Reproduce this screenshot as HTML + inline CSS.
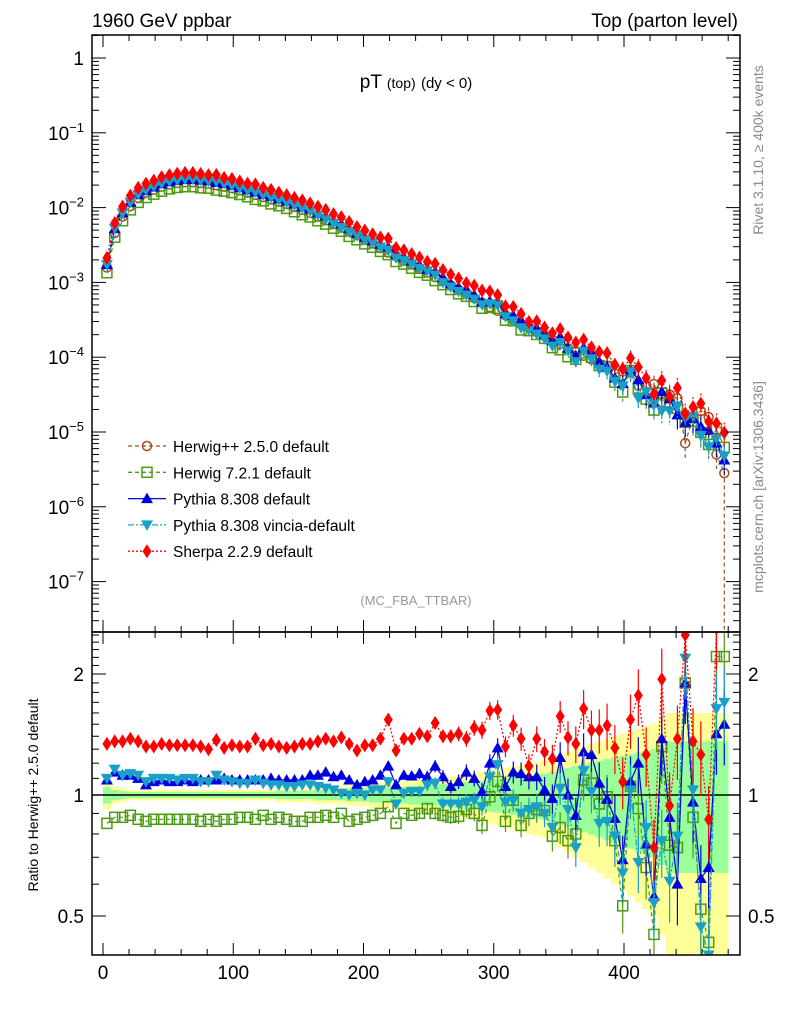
<!DOCTYPE html>
<html><head><meta charset="utf-8"><style>
html,body{margin:0;padding:0;background:#fff;}
svg{display:block;font-family:"Liberation Sans",sans-serif;}
</style></head><body>
<svg id="c" width="786" height="1024" viewBox="0 0 786 1024" xmlns="http://www.w3.org/2000/svg">
<defs>
<clipPath id="clipMain"><rect x="92" y="35" width="648" height="597"/></clipPath>
<clipPath id="clipRatio"><rect x="92" y="632" width="648" height="323"/></clipPath>
</defs>
<rect x="0" y="0" width="786" height="1024" fill="#fff"/>
<g id="bands" clip-path="url(#clipRatio)"></g>
<g id="mainSeries" clip-path="url(#clipMain)"></g>
<g id="ratioSeries" clip-path="url(#clipRatio)"></g>
<g id="axes"></g>
<text x="92" y="27" font-size="19">1960 GeV ppbar</text>
<text x="738" y="27" font-size="19" text-anchor="end">Top (parton level)</text>
<text x="416" y="88" font-size="19" text-anchor="middle">pT <tspan font-size="14">(top)</tspan> <tspan font-size="15">(dy &lt; 0)</tspan></text>
<text x="416" y="605" font-size="13" fill="#999" text-anchor="middle">(MC_FBA_TTBAR)</text>
<text transform="translate(763,150) rotate(-90)" font-size="14" fill="#888" text-anchor="middle">Rivet 3.1.10, ≥ 400k events</text>
<text transform="translate(763,487) rotate(-90)" font-size="14" fill="#888" text-anchor="middle">mcplots.cern.ch [arXiv:1306.3436]</text>
<text transform="translate(38,795) rotate(-90)" font-size="14" text-anchor="middle">Ratio to Herwig++ 2.5.0 default</text>
<g id="legend"></g>
</svg>
<script>
// ---- data ----
const binCenters = [3,9,15,21,27,33,39,45,51,57,63,69,75,81,87,93,99,105,111,117,123,129,135,141,147,153,159,165,171,177,183,189,195,201,207,213,219,225,231,237,243,249,255,261,267,273,279,285,291,297,303,309,315,321,327,333,339,345,351,357,363,369,375,381,387,393,399,405,411,417,423,429,435,441,447,453,459,465,471,477];
// log10 of Herwig++ 2.5.0 reference dsigma/dpT
const refLog10 = [-2.80,-2.34,-2.12,-1.98,-1.87,-1.80,-1.76,-1.72,-1.69,-1.67,-1.66,-1.66,-1.67,-1.68,-1.70,-1.72,-1.74,-1.77,-1.80,-1.83,-1.86,-1.89,-1.92,-1.95,-1.99,-2.03,-2.07,-2.12,-2.17,-2.22,-2.27,-2.32,-2.37,-2.43,-2.48,-2.54,-2.60,-2.65,-2.71,-2.76,-2.82,-2.87,-2.93,-2.98,-3.04,-3.10,-3.15,-3.21,-3.27,-3.33,-3.38,-3.44,-3.50,-3.56,-3.60,-3.66,-3.71,-3.77,-3.82,-3.88,-3.93,-3.98,-4.03,-4.09,-4.12,-4.22,-4.19,-4.20,-4.38,-4.38,-4.36,-4.60,-4.50,-4.55,-5.15,-4.80,-4.72,-4.80,-5.30,-5.55];
const ratioHerwig7 = [0.85,0.88,0.88,0.89,0.87,0.86,0.87,0.87,0.87,0.87,0.87,0.87,0.86,0.87,0.86,0.87,0.87,0.88,0.88,0.87,0.89,0.87,0.88,0.87,0.86,0.86,0.88,0.88,0.89,0.88,0.90,0.86,0.87,0.88,0.89,
0.90,0.935,0.85,0.90,0.89,0.90,0.925,0.90,0.89,0.88,0.885,0.92,0.90,0.84,0.99,1.08,0.86,0.97,0.84,0.90,0.92,0.915,0.79,0.83,0.77,0.80,1.09,1.07,0.95,0.99,0.77,0.53,1.05,0.925,0.66,0.45,1.32,0.75,0.74,1.90,0.88,0.52,0.43,2.21,2.21];
const ratioPythia = [1.09,1.14,1.12,1.12,1.10,1.06,1.08,1.09,1.08,1.08,1.09,1.08,1.09,1.09,1.09,1.10,1.09,1.09,1.09,1.09,1.09,1.10,1.09,1.09,1.09,1.09,1.12,1.12,1.14,1.11,1.12,1.09,1.06,1.08,1.09,
1.12,1.18,1.06,1.12,1.115,1.13,1.11,1.18,1.11,1.05,1.08,1.14,1.10,1.02,1.20,1.31,1.05,1.14,1.13,1.11,1.11,1.03,0.98,1.24,1.0,0.89,1.28,1.26,1.07,0.975,0.875,0.69,1.08,1.20,0.755,0.56,1.38,0.88,0.60,1.90,0.96,0.62,0.66,1.42,1.50];
const ratioVincia = [1.10,1.16,1.12,1.13,1.12,1.08,1.10,1.10,1.10,1.09,1.10,1.10,1.08,1.08,1.12,1.09,1.08,1.07,1.07,1.09,1.07,1.06,1.06,1.05,1.05,1.06,1.06,1.05,1.04,1.03,1.01,1.00,1.01,1.00,1.03,
1.03,1.08,0.95,1.01,1.02,1.02,1.06,1.07,0.95,0.95,0.95,0.96,0.97,0.935,1.11,1.19,0.96,0.97,0.90,0.92,0.935,0.90,0.83,1.04,0.92,0.74,1.15,1.02,0.85,0.86,0.79,0.64,1.03,0.68,0.83,0.54,0.77,0.61,0.79,2.19,1.03,0.47,0.40,1.64,1.70];
const ratioSherpa = [1.34,1.36,1.36,1.38,1.36,1.32,1.32,1.34,1.33,1.33,1.33,1.33,1.32,1.30,1.37,1.31,1.33,1.32,1.32,1.38,1.33,1.34,1.32,1.31,1.32,1.34,1.34,1.36,1.38,1.36,1.39,1.34,1.29,1.33,1.33,
1.38,1.54,1.29,1.38,1.38,1.42,1.40,1.51,1.40,1.40,1.42,1.38,1.47,1.45,1.62,1.63,1.32,1.49,1.38,1.18,1.38,1.28,1.23,1.57,1.39,1.34,1.64,1.45,1.45,1.49,1.31,1.08,1.54,1.77,1.26,0.74,1.94,0.94,1.38,2.5,1.36,1.26,0.87,2.6,3.5];
// relative stat uncertainty of reference
const refRelErr = [0.08,0.05,0.04,0.03,0.03,0.03,0.03,0.03,0.03,0.03,0.03,0.03,0.03,0.03,0.03,0.03,0.03,0.03,0.03,0.03,0.03,0.03,0.04,0.04,0.04,0.04,0.04,0.05,0.05,0.05,0.05,0.06,0.06,0.06,0.07,0.07,0.07,0.08,0.08,0.09,0.09,0.10,0.10,0.11,0.11,0.12,0.13,0.13,0.14,0.15,0.16,0.17,0.18,0.19,0.20,0.21,0.22,0.24,0.26,0.28,0.30,0.32,0.34,0.36,0.38,0.40,0.42,0.44,0.46,0.48,0.50,0.55,0.60,0.60,0.60,0.60,0.60,0.60,0.60,0.60];
const xTicks = [0,100,200,300,400];
const ratioTicks = [0.5,1,2];
const mainDecades = [0,-1,-2,-3,-4,-5,-6,-7];

// ---- axes ----
const X0=103, XS=1.3025;
const xs = v => X0 + v*XS;
const ys = lg => 58 - lg*74.8;
const yr = r => 795 - 402*Math.log10(r);
const NS='http://www.w3.org/2000/svg';
function mk(tag, attrs, parent){const e=document.createElementNS(NS,tag);for(const k in attrs)e.setAttribute(k,attrs[k]);parent.appendChild(e);return e;}
const axes=document.getElementById('axes');

let f1=mk('rect',{x:92,y:35,width:648,height:597,fill:'none',stroke:'#000','stroke-width':1.5},axes);


let f2=mk('rect',{x:92,y:632,width:648,height:323,fill:'none',stroke:'#000','stroke-width':1.5},axes);



for(let v=0; v<=480; v+=20){
  const x=xs(v), major = (v%100===0), L= major?12:6;
  mk('line',{x1:x,y1:955,x2:x,y2:955-L,stroke:'#000'},axes);
  mk('line',{x1:x,y1:632,x2:x,y2:632+L,stroke:'#000'},axes);
  mk('line',{x1:x,y1:632,x2:x,y2:632-L,stroke:'#000'},axes);
  mk('line',{x1:x,y1:35,x2:x,y2:35+L,stroke:'#000'},axes);
}
xTicks.forEach(v=>{
  const t=mk('text',{x:xs(v),y:979,'font-size':19,'text-anchor':'middle'},axes);
  t.textContent=v;
  
  
});
mainDecades.forEach(d=>{
  const y=ys(d);
  mk('line',{x1:92,y1:y,x2:106,y2:y,stroke:'#000'},axes);
  mk('line',{x1:740,y1:y,x2:726,y2:y,stroke:'#000'},axes);
  const t=mk('text',{x:84,y:y+7,'font-size':19,'text-anchor':'end'},axes);
  
  
  if(d===0){t.textContent='1';}
  else{t.textContent='10';const s=mk('tspan',{dy:-8,'font-size':13},t);s.textContent='\u2212'+(-d);}
});
for(let d=-8; d<=0; d++){
  for(let m=2;m<=9;m++){
    const y=ys(d+Math.log10(m));
    if(y<35||y>632) continue;
    mk('line',{x1:92,y1:y,x2:99,y2:y,stroke:'#000'},axes);
    mk('line',{x1:740,y1:y,x2:733,y2:y,stroke:'#000'},axes);
  }
}
for(let k=4; k<=25; k++){
  const rr=k/10, y=yr(rr);
  if(y<632||y>955) continue;
  const major = (k===5||k===10||k===20);
  const L=major?14:7;
  mk('line',{x1:92,y1:y,x2:92+L,y2:y,stroke:'#000'},axes);
  mk('line',{x1:740,y1:y,x2:740-L,y2:y,stroke:'#000'},axes);
}
ratioTicks.forEach(r=>{
  const y=yr(r);
  const t=mk('text',{x:84,y:y+7,'font-size':19,'text-anchor':'end'},axes);
  t.textContent=String(r);
  
  
  const t2=mk('text',{x:748,y:y+7,'font-size':19,'text-anchor':'start'},axes);
  t2.textContent=String(r);
  
  
});

// ---- bands ----
const bands=document.getElementById('bands');
binCenters.forEach((c,i)=>{
  const x1=xs(c-3), w=6*XS;
  const eY=refRelErr[i], eG=refRelErr[i]*0.6;
  const yb=mk('rect',{x:x1,y:yr(1+eY),width:w+0.3,height:yr(Math.max(1-eY,0.05))-yr(1+eY),fill:'#ffff99'},bands);
  
  
  const gb=mk('rect',{x:x1,y:yr(1+eG),width:w+0.3,height:yr(Math.max(1-eG,0.05))-yr(1+eG),fill:'#99ff99'},bands);
  
  
});
mk('line',{x1:92,y1:yr(1),x2:740,y2:yr(1),stroke:'#000','stroke-width':1.5},bands);

// ---- series ----
const series=[
 {name:'herwigpp',ratio:null,color:'#a0521e',dash:'4,3',marker:'circle',label:'Herwig++ 2.5.0 default'},
 {name:'herwig7',ratio:ratioHerwig7,color:'#4a9a12',dash:'4,3',marker:'square',label:'Herwig 7.2.1 default'},
 {name:'pythia',ratio:ratioPythia,color:'#0000dd',dash:'',marker:'up',label:'Pythia 8.308 default'},
 {name:'vincia',ratio:ratioVincia,color:'#1aa0c8',dash:'6,2,2,2',marker:'down',label:'Pythia 8.308 vincia-default'},
 {name:'sherpa',ratio:ratioSherpa,color:'#ff0000',dash:'2,2',marker:'diamond',label:'Sherpa 2.2.9 default'}
];
function marker(s,x,y,parent){
  let e;
  if(s.marker==='circle') e=mk('circle',{cx:x,cy:y,r:4.5,fill:'none',stroke:s.color,'stroke-width':1.5},parent);
  else if(s.marker==='square') e=mk('rect',{x:x-5,y:y-5,width:10,height:10,fill:'none',stroke:s.color,'stroke-width':1.5},parent);
  else if(s.marker==='up') e=mk('polygon',{points:`${x},${y-6} ${x-6},${y+4.5} ${x+6},${y+4.5}`,fill:s.color},parent);
  else if(s.marker==='down') e=mk('polygon',{points:`${x},${y+6} ${x-6},${y-4.5} ${x+6},${y-4.5}`,fill:s.color},parent);
  else e=mk('polygon',{points:`${x},${y-7} ${x-4.5},${y} ${x},${y+7} ${x+4.5},${y}`,fill:s.color},parent);
  return e;
}
const mainG=document.getElementById('mainSeries'), ratioG=document.getElementById('ratioSeries');
series.forEach(s=>{
  const gm=mk('g',{},mainG);
  
  
  const gr=mk('g',{},ratioG);
  
  
  const rr = binCenters.map((c,i)=> s.ratio? s.ratio[i] : 1);
  const mp = binCenters.map((c,i)=>[xs(c), ys(refLog10[i]+Math.log10(rr[i]))]);
  mk('polyline',{points:mp.map(p=>p.join(',')).join(' '),fill:'none',stroke:s.color,'stroke-width':1.2,'stroke-dasharray':s.dash},gm);
  binCenters.forEach((c,i)=>{
    const [x,y]=mp[i];
    if(i>=62){
      const e=(i===79 && !s.ratio)?0.999:refRelErr[i]*0.6;
      mk('line',{x1:x,y1:ys(refLog10[i]+Math.log10(rr[i]*(1+e))),x2:x,y2:ys(refLog10[i]+Math.log10(Math.max(rr[i]*(1-e),1e-4))),stroke:s.color,'stroke-width':1.2,'stroke-dasharray':s.dash},gm);
    }
    const m=marker(s,x,y,gm);
    
    
  });
  if(s.ratio){
    const rp = binCenters.map((c,i)=>[xs(c), yr(s.ratio[i])]);
    mk('polyline',{points:rp.map(p=>p.join(',')).join(' '),fill:'none',stroke:s.color,'stroke-width':1.2,'stroke-dasharray':s.dash},gr);
    binCenters.forEach((c,i)=>{
      const [x,y]=rp[i];
      if(i>=40){
        const e=refRelErr[i]*0.35;
        mk('line',{x1:x,y1:yr(s.ratio[i]*(1+e)),x2:x,y2:yr(s.ratio[i]*(1-e)),stroke:s.color,'stroke-width':1.2},gr);
      }
      const m=marker(s,x,y,gr);
      
      
    });
  }
});

// ---- legend ----
const lg=document.getElementById('legend');
series.forEach((s,k)=>{
  const y=446+k*26.3;
  const g=mk('g',{},lg);
  
  
  mk('line',{x1:128,y1:y,x2:166,y2:y,stroke:s.color,'stroke-width':1.3,'stroke-dasharray':s.dash},g);
  marker(s,147,y,g);
  const t=mk('text',{x:173,y:y+6,'font-size':15.5},g);
  t.textContent=s.label;
});
</script>
</body></html>
